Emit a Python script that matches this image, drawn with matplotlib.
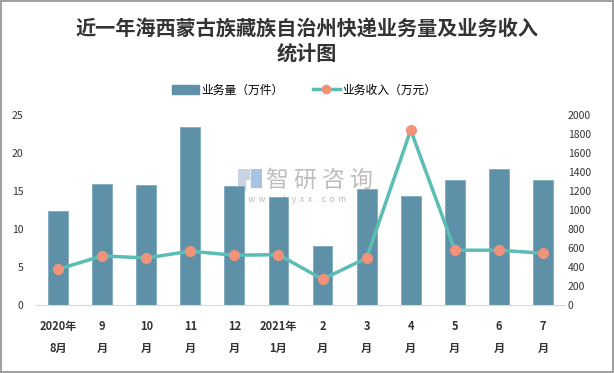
import matplotlib
matplotlib.use('agg')
import matplotlib.pyplot as plt
import matplotlib.patches as mpatches
import numpy as np

plt.rcParams['font.family'] = ['Noto Sans CJK SC', 'DejaVu Sans']

months = ['2020年\n8月', '9\n月', '10\n月', '11\n月', '12\n月', '2021年\n1月',
          '2\n月', '3\n月', '4\n月', '5\n月', '6\n月', '7\n月']
volume = [12.4, 15.9, 15.8, 23.4, 15.6, 14.2, 7.8, 15.2, 14.4, 16.4, 17.9, 16.4]
revenue = [376, 517, 495, 566, 524, 530, 271, 495, 1841, 577, 577, 545]

barColor = '#5E90A8'
lineColor = '#5BBDB4'
markerColor = '#F0937A'

fig = plt.figure(figsize=(6.14, 3.73), dpi=100)
fig.patch.set_edgecolor('#A0A0A0')
fig.patch.set_linewidth(1.5)

# watermark (behind the chart)
logo = fig.add_axes([238/614, 1-191/373, 24/614, 22/373], zorder=0)
logo.axis('off')
logo.add_patch(mpatches.Rectangle((0, 0.55), 0.45, 0.45, color='#C8D4E4'))
logo.add_patch(mpatches.Rectangle((0, 0), 0.3, 0.5, color='#C8D4E4'))
logo.add_patch(mpatches.Rectangle((0.55, 0.2), 0.45, 0.8, color='#A9C3E6'))
logo.set_xlim(0, 1)
logo.set_ylim(0, 1)

ax = fig.add_axes([36/614, 1-305/373, 529/614, 190/373], zorder=1)
ax.patch.set_alpha(0)
x = np.arange(len(months))
ax.bar(x, volume, width=0.45, color=barColor, edgecolor='#7FAAC0', linewidth=0.6,
       zorder=2)
ax.set_ylim(0, 25)
ax.set_xlim(-0.5, len(months)-0.5)
ax.set_yticks(range(0, 26, 5))
ax2 = ax.twinx()
ax2.plot(x, revenue, color=lineColor, linewidth=2.5, marker='o', markersize=7,
         markerfacecolor=markerColor, markeredgecolor=markerColor, zorder=3)
ax2.set_ylim(0, 2000)
ax2.set_yticks(range(0, 2001, 200))

for a in (ax, ax2):
    for s in a.spines.values():
        s.set_visible(False)
    a.tick_params(length=0, labelsize=7.5, colors='#333333')
ax.spines['bottom'].set_visible(True)
ax.spines['bottom'].set_color('#D9D9D9')
ax.set_xticks(x)
ax.set_xticklabels(months, fontsize=8, fontweight='bold', linespacing=1.9,
                   va='top')
ax.tick_params(axis='x', pad=11)
ax.tick_params(axis='y', pad=9)
ax2.tick_params(axis='y', pad=2)

fig.text(266/614, 1-180/373, '智 研 咨 询', fontsize=16.5, color='#A8A8A8', alpha=0.75,
         ha='left', va='center', zorder=0)
fig.text(238/614, 1-199/373, 'w  w  w  .  c  h  y  x  x  .  c  o  m', fontsize=6,
         color='#A8A8A8', alpha=0.8, ha='left', va='center', zorder=0)

titleX = 307/614
fig.text(titleX, 1-29/373, '近一年海西蒙古族藏族自治州快递业务量及业务收入', ha='center',
         va='center', fontsize=14.5, fontweight='bold', color='#333333')
fig.text(titleX, 1-53/373, '统计图', ha='center', va='center', fontsize=14.5,
         fontweight='bold', color='#333333')

barHandle = mpatches.Patch(color=barColor, label='业务量（万件）')
lineHandle, = ax2.plot([], [], color=lineColor, linewidth=2.5, marker='o',
                       markersize=6, markerfacecolor=markerColor,
                       markeredgecolor=markerColor, label='业务收入（万元）')
fig.legend(handles=[barHandle, lineHandle], loc='center',
           bbox_to_anchor=(304/614, 1-90/373), ncol=2, frameon=False, fontsize=8.5,
           handlelength=2.3, columnspacing=2.5, handletextpad=0.2)

plt.savefig('out.png', dpi=100)
